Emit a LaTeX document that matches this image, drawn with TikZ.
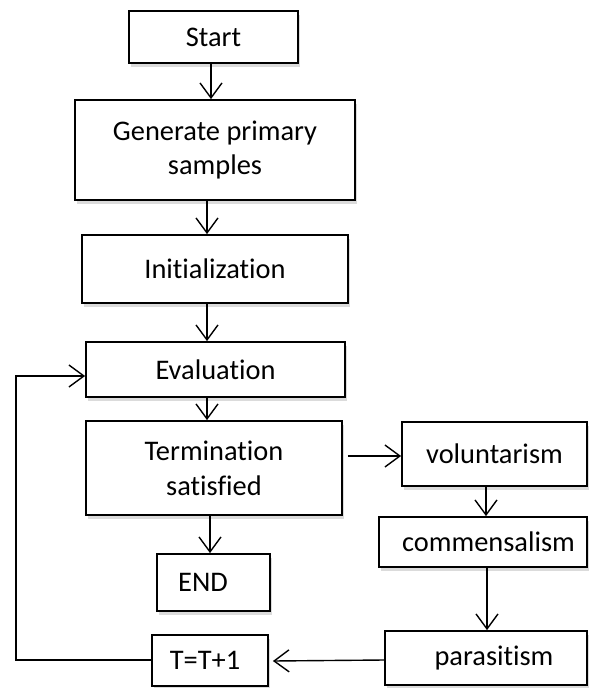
\documentclass[tikz,border=0pt]{standalone}
\usepackage{fontspec}
\setmainfont{Carlito}[Ligatures=NoCommon]
\usetikzlibrary{arrows.meta,shadows}
\begin{document}
\begin{tikzpicture}[x=1pt,y=-1pt,
  box/.style={draw=black, line width=1.8pt, fill=white, inner sep=0pt, align=center,
    font=\fontsize{28.4}{34.7}\selectfont,
    drop shadow={shadow xshift=1.5pt,shadow yshift=-3.5pt,fill=black!14,opacity=1}},
  arr/.style={line width=1.4pt, line join=miter, -{Straight Barb[length=15pt,width=22pt]}}]
\useasboundingbox (0,0) rectangle (593,688);

\node[box, minimum width=169, minimum height=52] (start) at (213.5,37) {Start};
\node[box, minimum width=280, minimum height=100] (gen) at (215,150) {Generate primary\\samples};
\node[box, minimum width=266, minimum height=68] (init) at (215,269) {Initialization};
\node[box, minimum width=259, minimum height=55] (eval) at (215.5,369.5) {Evaluation};
\node[box, minimum width=256, minimum height=94] (term) at (214,468) {Termination\\satisfied};
\node[box, minimum width=113, minimum height=57] (end) at (213.5,582.5) {END\hspace*{21pt}};
\node[box, minimum width=116, minimum height=51] (tt) at (210,660.5) {T=T+1\hspace*{10pt}};
\node[box, minimum width=185, minimum height=64] (vol) at (494.5,454) {voluntarism};
\node[box, minimum width=208, minimum height=50] (comm) at (483,542) {\hspace*{11pt}commensalism};
\node[box, minimum width=202, minimum height=54] (paras) at (486,658) {\hspace*{16pt}parasitism};

\coordinate (lb) at (16,660);
\coordinate (lt) at (16,376);

\draw[arr] ([xshift=-2.5pt]start.south) -- ([xshift=-4pt]gen.north);
\draw[arr] ([xshift=-8pt]gen.south) -- ([xshift=-8pt]init.north);
\draw[arr] ([xshift=-8pt]init.south) -- ([xshift=-8.5pt]eval.north);
\draw[arr] ([xshift=-8.5pt]eval.south) -- ([xshift=-7pt]term.north);
\draw[arr] ([xshift=-4pt]term.south) -- ([xshift=-3.5pt]end.north);
\draw[arr] ([xshift=5pt,yshift=12pt]term.east) -- ([yshift=-2pt]vol.west);
\draw[arr] ([xshift=-8.5pt]vol.south) -- ([xshift=3pt]comm.north);
\draw[arr] ([xshift=4pt]comm.south) -- ([xshift=1pt]paras.north);
\draw[arr] ([yshift=-2pt]paras.west) -- ([xshift=4pt,yshift=-0.5pt]tt.east);
\draw[arr] (tt.west |- lb) -- (lb) -- (lt) -- (eval.west |- lt);
\end{tikzpicture}
\end{document}
